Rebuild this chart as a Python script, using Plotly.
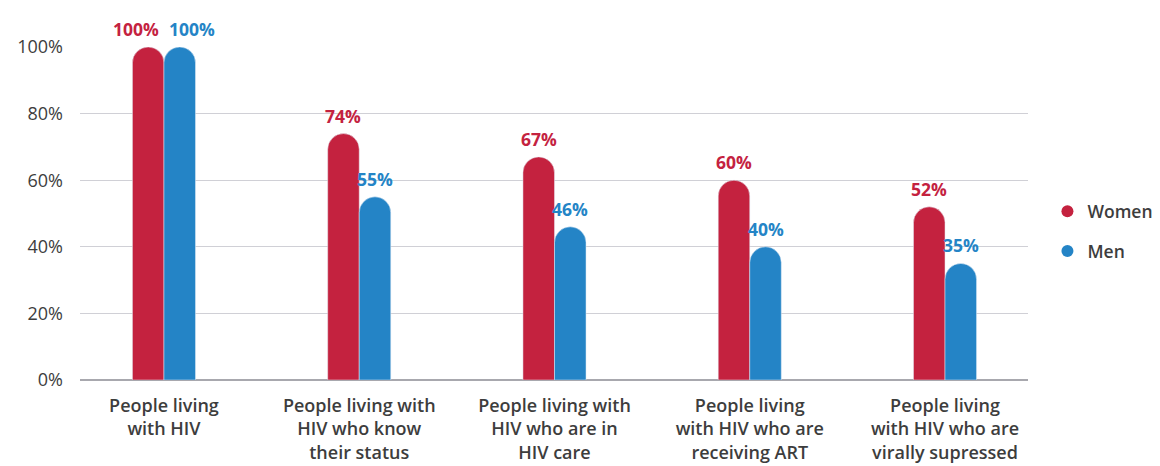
import plotly.graph_objects as go

categories = [
    "People living<br>with HIV",
    "People living with<br>HIV who know<br>their status",
    "People living with<br>HIV who are in<br>HIV care",
    "People living<br>with HIV who are<br>receiving ART",
    "People living<br>with HIV who are<br>virally supressed",
]
women = [100, 74, 67, 60, 52]
men = [100, 55, 46, 40, 35]
y_ticks = [0, 20, 40, 60, 80, 100]
y_tick_labels = ["0%", "20%", "40%", "60%", "80%", "100%"]

WOMEN_C = "#C4223F"
MEN_C = "#2484C6"
FONT = "Open Sans"
TXT = "#3d3d3d"
BARGAP = 0.677

xs = list(range(len(categories)))

fig = go.Figure()
fig.add_trace(go.Bar(x=xs, y=women, name="Women", marker_color=WOMEN_C, showlegend=False))
fig.add_trace(go.Bar(x=xs, y=men, name="Men", marker_color=MEN_C, showlegend=False))
for name, c in [("Women", WOMEN_C), ("Men", MEN_C)]:
    fig.add_trace(go.Scatter(
        x=[None], y=[None], mode="markers", name=name, legendgroup=name,
        marker=dict(color=c, size=14, symbol="circle"),
    ))

off = (1 - BARGAP) / 4
annotations = []
for i, (w, m) in enumerate(zip(women, men)):
    clash = abs(w - m) < 6
    for val, sign, col in [(w, -1, WOMEN_C), (m, 1, MEN_C)]:
        annotations.append(dict(
            x=i + sign * off, y=val, xref="x", yref="y",
            text=f"{val}%", showarrow=False,
            xanchor="center", yanchor="middle", yshift=18,
            xshift=(sign * 12 if clash else 0),
            font=dict(color=col, size=17.5, family=FONT, weight=700),
        ))

fig.update_layout(
    width=1152, height=458,
    margin=dict(l=72, r=132, t=39, b=86, autoexpand=False),
    paper_bgcolor="white", plot_bgcolor="white",
    barmode="group", bargap=BARGAP, bargroupgap=0,
    barcornerradius="50%",
    font=dict(family=FONT, color=TXT, size=16),
    annotations=annotations,
    xaxis=dict(
        range=[-0.43, 4.425], tickmode="array", tickvals=xs, ticktext=categories,
        showgrid=False, zeroline=False, showline=False, ticks="",
        ticklabelstandoff=13, automargin=False,
        tickfont=dict(size=18, family=FONT, color=TXT, weight=600),
    ),
    yaxis=dict(
        range=[0, 100], tickmode="array", tickvals=y_ticks, ticktext=y_tick_labels,
        showgrid=True, gridcolor="#d0d0d6", gridwidth=1,
        zeroline=True, zerolinecolor="#a8a8ae", zerolinewidth=1.5,
        ticks="", ticklabelstandoff=16, automargin=False,
        tickfont=dict(size=18, family=FONT, color=TXT),
    ),
    legend=dict(
        x=1.0205, y=0.446, xanchor="left", yanchor="middle",
        font=dict(size=17.5, family=FONT, color=TXT, weight=600),
        tracegroupgap=14, itemsizing="constant",
        bgcolor="rgba(0,0,0,0)", borderwidth=0,
    ),
)

fig.write_html("out.html")
